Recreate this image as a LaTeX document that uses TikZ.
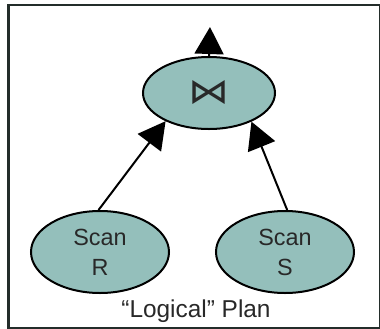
\documentclass[tikz,border=0pt]{standalone}
\usepackage{fontspec}
\setmainfont{Liberation Sans}
\newfontfamily\dejavu{DejaVu Sans}
\usetikzlibrary{shapes.geometric,arrows.meta}
\definecolor{opfill}{RGB}{148,191,187}
\definecolor{framec}{RGB}{35,45,42}
\definecolor{txt}{RGB}{40,40,40}
\tikzset{
  op/.style={ellipse, draw=black, line width=2bp, fill=opfill, inner sep=0pt,
    text=txt, align=center, font=\fontsize{23.5}{30}\selectfont},
  flow/.style={line width=2bp, -{Triangle[length=27bp,width=29bp]}},
}
\begin{document}
\begin{tikzpicture}[x=1bp,y=-1bp]
\useasboundingbox (0,0) rectangle (380,329);
\draw[framec, line width=2bp] (8.5,5) rectangle (380,328);
\node[op, minimum width=132bp, minimum height=72bp] (J) at (209,93)
  {\resizebox{41bp}{23bp}{\dejavu ⋈}};
\node[op, minimum width=138bp, minimum height=82bp] (R) at (100,252) {Scan\\R};
\node[op, minimum width=138bp, minimum height=82bp] (S) at (285,252) {Scan\\S};
\coordinate (out) at (210,27);
\draw[flow] (J.north) -- (out);
\draw[flow] (R.92) -- (J.213);
\draw[flow] (S.87) -- (J.326);
\node[text=txt, font=\fontsize{24.5}{28}\selectfont, anchor=base] (L) at (196,317) {“Logical” Plan};
\end{tikzpicture}
\end{document}
